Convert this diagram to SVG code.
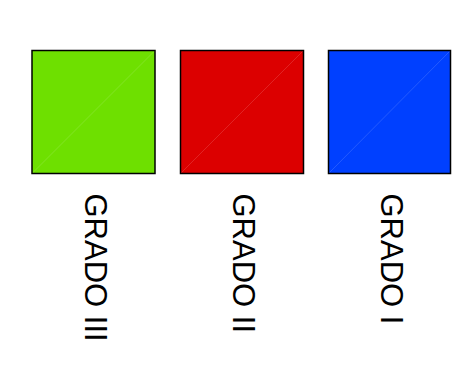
<svg xmlns="http://www.w3.org/2000/svg" width="473" height="376" viewBox="0 0 473 376">
<style>
.sq{stroke:#000;stroke-width:1.5}
.diag{stroke:#fff;stroke-opacity:0.18;stroke-width:0.8}
.lbl{font-family:"Liberation Sans",Arial,sans-serif;font-size:31px;fill:#000}
</style>
<rect width="473" height="376" fill="#fff"/>
<g id="grado3">
<rect class="sq" x="32" y="50.5" width="123" height="123" fill="#6EE000"/>
<line class="diag" x1="33" y1="172.5" x2="154" y2="51.5"/>
<text class="lbl" transform="translate(85,193.5) rotate(90)">GRADO III</text>
</g>
<g id="grado2">
<rect class="sq" x="180.5" y="50.5" width="123" height="123" fill="#DC0000"/>
<line class="diag" x1="181.5" y1="172.5" x2="302.5" y2="51.5"/>
<text class="lbl" transform="translate(233,193.5) rotate(90)">GRADO II</text>
</g>
<g id="grado1">
<rect class="sq" x="328.5" y="50.5" width="122" height="123" fill="#0040FF"/>
<line class="diag" x1="329.5" y1="172.5" x2="449.5" y2="51.5"/>
<text class="lbl" transform="translate(381,193.5) rotate(90)">GRADO I</text>
</g>
<g id="connectors"/>
</svg>
